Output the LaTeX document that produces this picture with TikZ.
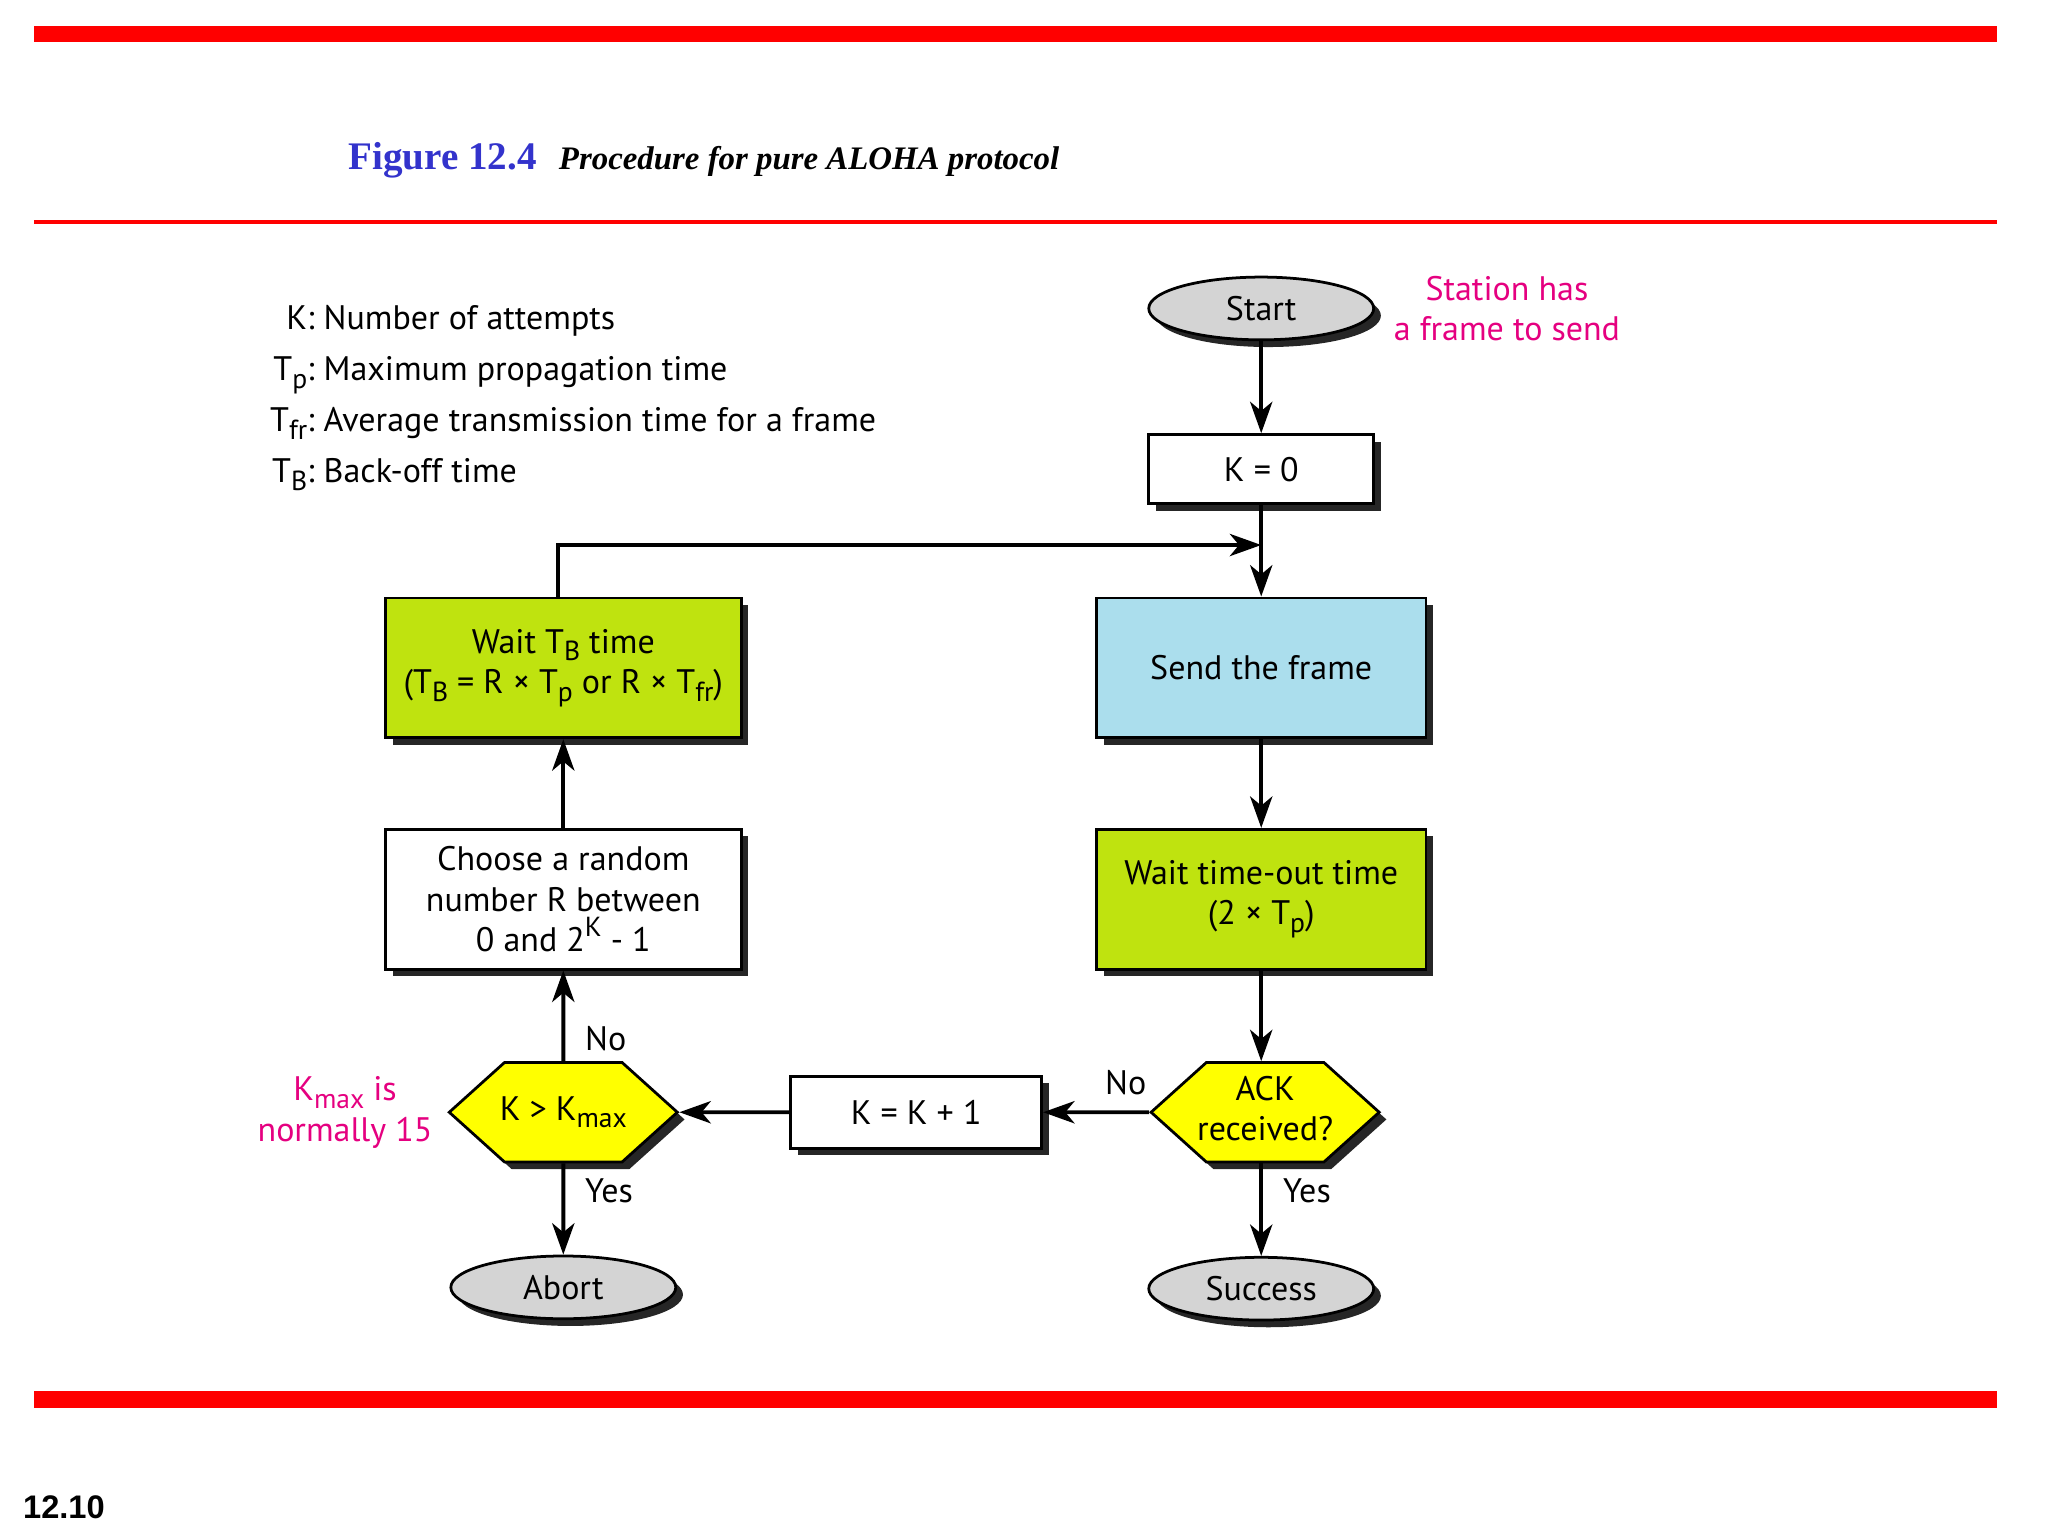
\documentclass[tikz,border=0pt]{standalone}
\usepackage{fontspec}
\setmainfont{PT Sans}
\newfontfamily\titlefont{Liberation Serif}
\newfontfamily\pagefont{Liberation Sans}
\usetikzlibrary{arrows.meta,
	shadows,
	shapes.geometric,
	shapes.symbols}
\definecolor{barred}{rgb}{1.0, 0.0, 0.0}
\definecolor{titleblue}{rgb}{0.2, 0.2, 0.8}
\definecolor{notepink}{rgb}{0.9, 0.0, 0.5}
\definecolor{limegreen}{rgb}{0.75, 0.89, 0.06}
\definecolor{skyblue}{rgb}{0.67, 0.87, 0.93}
\definecolor{hexyellow}{rgb}{1.0, 1.0, 0.0}
\definecolor{ovalgray}{rgb}{0.83, 0.83, 0.83}
\newcommand{\lowidx}[1]{\raisebox{-0.45ex}{\fontsize{6}{7}\selectfont #1}}
\newcommand{\highidx}[1]{\raisebox{0.9ex}{\fontsize{6}{7}\selectfont #1}}
\newcommand{\declabel}[1]{\makebox[0.9cm]{\begin{tabular}{@{}c@{}}#1\end{tabular}}}

\begin{document}
\begin{tikzpicture}[x=0.01cm,y=-0.01cm,font=\fontsize{7.4}{8.8}\selectfont]
      \tikzstyle{castshadow}=[drop shadow={shadow xshift=0.055cm,shadow yshift=-0.055cm,fill=black!85,opacity=1}]
      \tikzstyle{box}=[rectangle,draw,line width=0.6pt,align=center,inner sep=0pt,castshadow]
      \tikzstyle{oval}=[ellipse,draw,fill=ovalgray,line width=0.6pt,minimum width=1.72cm,minimum height=0.48cm,inner sep=0pt,castshadow]
      \tikzstyle{decision}=[signal,signal to=west and east,signal pointer angle=84,draw,fill=hexyellow,line width=0.6pt,minimum width=1.2cm,minimum height=0.76cm,inner sep=0pt,castshadow]
      \tikzstyle{flow}=[-{Stealth[length=0.24cm,width=0.17cm,inset=0.07cm]},line width=0.85pt]
      \tikzstyle{note}=[text=notepink,align=center]
      \useasboundingbox (0,0) rectangle (1567,1175);
      % page frame
      \fill[barred] (26,20) rectangle (1528,32);
      \fill[barred] (26,168) rectangle (1528,171);
      \fill[barred] (26,1064) rectangle (1528,1077);
      \node[anchor=base west,inner sep=0pt,text=titleblue,font=\titlefont\bfseries\fontsize{8.5}{10}\selectfont] (fig_no) at (266,130) {Figure 12.4};
      \node[anchor=base west,inner sep=0pt,font=\titlefont\bfseries\itshape\fontsize{7.15}{10}\selectfont] (fig_title) at (427,130) {Procedure for pure ALOHA protocol};
      \node[anchor=base west,inner sep=0pt,font=\pagefont\bfseries\fontsize{7.1}{8}\selectfont] (page_no) at (17,1162) {12.10};
      % legend
      \node[anchor=base west,inner sep=0pt,font=\fontsize{7.4}{11.1}\selectfont] (legend) at (206,252) {\begin{tabular}[t]{@{}r@{:\ }l@{}}
        K & Number of attempts\\
        T\lowidx{p} & Maximum propagation time\\
        T\lowidx{fr} & Average transmission time for a frame\\
        T\lowidx{B} & Back-off time
      \end{tabular}};
      % right column
      \node[oval] (start) at (965,236) {Start};
      \node[note] (station) at (1153,236) {Station has\\a frame to send};
      \node[box,fill=white,minimum width=1.72cm,minimum height=0.53cm] (k_0) at (965,359) {K = 0};
      \coordinate (join) at (965,417);
      \node[box,fill=skyblue,minimum width=2.52cm,minimum height=1.07cm] (send) at (965,511) {Send the frame};
      \node[box,fill=limegreen,minimum width=2.52cm,minimum height=1.07cm] (wait_out) at (965,688) {Wait time-out time\\(2 × T\lowidx{p})};
      \node[decision] (ack) at (968,851) {\declabel{ACK\\received?}};
      \node[oval] (success) at (965,986) {Success};
      % bottom row and left column
      \node[box,fill=white,minimum width=1.92cm,minimum height=0.55cm] (k_inc) at (701,851) {K = K + 1};
      \node[decision] (k_max) at (431,851) {\declabel{K > K\lowidx{max}}};
      \node[note] (kmax_note) at (264,851) {K\lowidx{max} is\\normally 15};
      \node[oval] (abort) at (431,985) {Abort};
      \node[box,fill=white,minimum width=2.72cm,minimum height=1.07cm] (choose) at (431,688) {Choose a random\\number R between\\0 and 2\highidx{K} - 1};
      \node[box,fill=limegreen,minimum width=2.72cm,minimum height=1.07cm] (wait_b) at (431,511) {Wait T\lowidx{B} time\\(T\lowidx{B} = R × T\lowidx{p} or R × T\lowidx{fr})};
      % connectors
      \draw[flow] (start) -- (k_0);
      \draw[line width=0.85pt] (k_0) -- (join);
      \draw[flow] (join) -- (send);
      \draw[flow] ([xshift=-0.04cm]wait_b.north) |- (join);
      \draw[flow] (send) -- (wait_out);
      \draw[flow] (wait_out) -- (wait_out |- ack.north);
      \draw[flow] (ack) -- node[pos=0.22,above=0pt] (no_ack) {No} (k_inc);
      \draw[flow] (success |- ack.south) -- node[pos=0.3,right=1pt] (yes_ack) {Yes} (success);
      \draw[flow] (k_inc) -- (k_max);
      \draw[flow] (k_max) -- node[pos=0.25,right=1pt] (no_max) {No} (choose);
      \draw[flow] (k_max) -- node[pos=0.3,right=1pt] (yes_max) {Yes} (abort);
      \draw[flow] (choose) -- (wait_b);
    \end{tikzpicture}
\end{document}
